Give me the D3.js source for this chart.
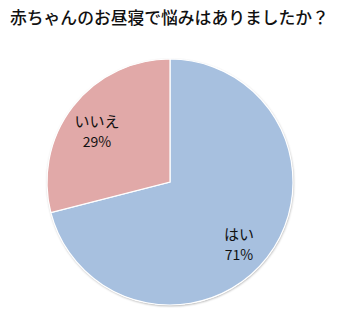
<!DOCTYPE html>
<html><head><meta charset="utf-8">
<script src="https://cdn.jsdelivr.net/npm/d3@7"></script>
<style>html,body{margin:0;padding:0;background:#fff;}</style>
</head><body>
<svg id="chart" width="340" height="320"></svg>
<script>
const title = "赤ちゃんのお昼寝で悩みはありましたか？";
const categories = ["はい", "いいえ"];
const values = [71, 29];
const colors = ["#a7c0df", "#e1a9a8"];

const svg = d3.select("#chart");
const cx = 170, cy = 182, r = 123;

svg.append("text").attr("x", 10).attr("y", 24)
  .attr("font-family", "'Noto Sans CJK JP', sans-serif")
  .attr("font-size", 16.8).attr("font-weight", 500).attr("fill", "#111")
  .text(title);

const pie = d3.pie().sort(null).value(d => d.v);
const data = pie(categories.map((c, i) => ({c, v: values[i], col: colors[i]})));
const arc = d3.arc().innerRadius(0).outerRadius(r);

const defs = svg.append("defs");
const f = defs.append("filter").attr("id", "sh").attr("x", "-10%").attr("y", "-10%").attr("width", "120%").attr("height", "120%");
f.append("feDropShadow").attr("dx", 0.5).attr("dy", 1).attr("stdDeviation", 0.8).attr("flood-color", "#000").attr("flood-opacity", 0.35);

const g = svg.append("g").attr("transform", `translate(${cx},${cy})`);
g.append("circle").attr("r", r).attr("fill", "#fff").attr("filter", "url(#sh)");
g.selectAll("path").data(data).join("path")
  .attr("d", arc).attr("fill", d => d.data.col)
  .attr("stroke", "#fff").attr("stroke-width", 1.2);

const labelPos = [[69, 58], [-73, -55]];
const lg = g.selectAll("g.lbl").data(data).join("g").attr("class", "lbl")
  .attr("transform", (d, i) => `translate(${labelPos[i][0]},${labelPos[i][1]})`);
lg.append("text").attr("text-anchor", "middle").attr("y", 0)
  .attr("font-family", "'Noto Sans CJK JP', sans-serif").attr("font-size", 15).attr("font-weight", 400).attr("fill", "#111")
  .text(d => d.data.c);
lg.append("text").attr("text-anchor", "middle").attr("y", 20)
  .attr("font-family", "'Noto Sans CJK JP', sans-serif").attr("font-size", 14).attr("font-weight", 400).attr("fill", "#111")
  .text(d => d.data.v + "%");
</script>
</body></html>
